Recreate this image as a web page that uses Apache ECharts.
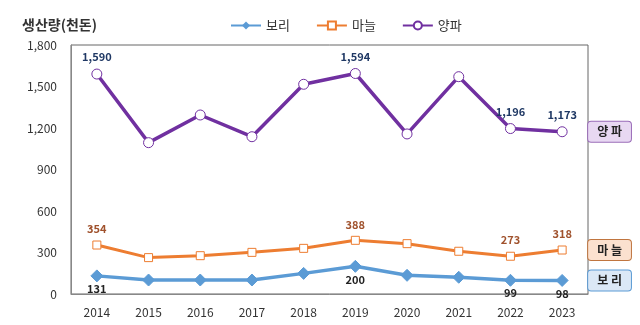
<!DOCTYPE html>
<html><head><meta charset="utf-8">
<script src="https://cdn.jsdelivr.net/npm/echarts@6/dist/echarts.min.js"></script>
<style>html,body{margin:0;padding:0;background:#fff}#c{width:640px;height:325px}</style>
</head><body><div id="c"></div>
<script>
const years = ['2014','2015','2016','2017','2018','2019','2020','2021','2022','2023'];
const barley = [131, 101, 101, 101, 149, 200, 135, 121, 99, 98];
const garlic = [354, 263, 277, 301, 330, 388, 364, 309, 273, 318];
const onion = [1590, 1094, 1294, 1137, 1516, 1594, 1157, 1571, 1196, 1173];
const labelYears = ['2014','2019','2022','2023'];
const yTicks = {min: 0, max: 1800, interval: 300};

const F = '"Noto Sans CJK KR", sans-serif';
function items(vals, color, pos, dist) {
  return vals.map((v, i) => {
    const show = labelYears.includes(years[i]);
    return {value: v, label: {show: show, position: pos, color: color, fontWeight: 'bold', fontSize: 11, fontFamily: F, distance: dist,
      formatter: p => p.value.toLocaleString('en-US')}};
  });
}
function endLbl(text, bg, border) {
  return {show: true, formatter: text, backgroundColor: bg, borderColor: border, borderWidth: 1, borderRadius: 3,
    padding: [4, 9], color: '#222', fontWeight: 'bold', fontSize: 12, fontFamily: F, distance: 26};
}
const chart = echarts.init(document.getElementById('c'));
chart.setOption({
  animation: false,
  grid: {left: 71, right: 52, top: 45, bottom: 31, show: true, borderColor: '#666', borderWidth: 1},
  legend: {left: 225, top: 14, itemGap: 26, itemWidth: 30, itemHeight: 10,
    textStyle: {fontFamily: F, fontSize: 13, color: '#333'},
    data: ['보리', '마늘', '양파']},
  title: {text: '생산량(천돈)', left: 17, top: 13, textStyle: {fontFamily: F, fontSize: 14, fontWeight: 'bold', color: '#333'}},
  xAxis: {type: 'category', data: years, boundaryGap: true,
    axisLine: {lineStyle: {color: '#888'}}, axisTick: {show: false},
    axisLabel: {color: '#333', fontFamily: F, fontSize: 12, margin: 12}},
  yAxis: {type: 'value', min: yTicks.min, max: yTicks.max, interval: yTicks.interval,
    axisLine: {show: true, lineStyle: {color: '#888'}}, axisTick: {show: false}, splitLine: {show: false},
    axisLabel: {color: '#333', fontFamily: F, fontSize: 12, margin: 14, formatter: v => v.toLocaleString('en-US')}},
  series: [
    {name: '보리', type: 'line', data: items(barley, '#222', 'bottom', 1), symbol: 'diamond', symbolSize: 12,
      lineStyle: {color: '#5b9bd5', width: 3.5}, itemStyle: {color: '#5b9bd5', borderColor: '#5b9bd5'},
      endLabel: endLbl('보 리', '#dbe8f6', '#5b9bd5')},
    {name: '마늘', type: 'line', data: items(garlic, '#a0522d', 'top', 6), symbol: 'rect', symbolSize: 8,
      lineStyle: {color: '#ed7d31', width: 3}, itemStyle: {color: '#fff', borderColor: '#ed7d31', borderWidth: 1},
      endLabel: endLbl('마 늘', '#fbe1cf', '#c0753f')},
    {name: '양파', type: 'line', data: items(onion, '#1f3864', 'top', 6), symbol: 'circle', symbolSize: 10,
      lineStyle: {color: '#7030a0', width: 3.5}, itemStyle: {color: '#fff', borderColor: '#7030a0', borderWidth: 1},
      endLabel: endLbl('양 파', '#e8d8f2', '#9a6cb8')}
  ]
});
</script></body></html>
